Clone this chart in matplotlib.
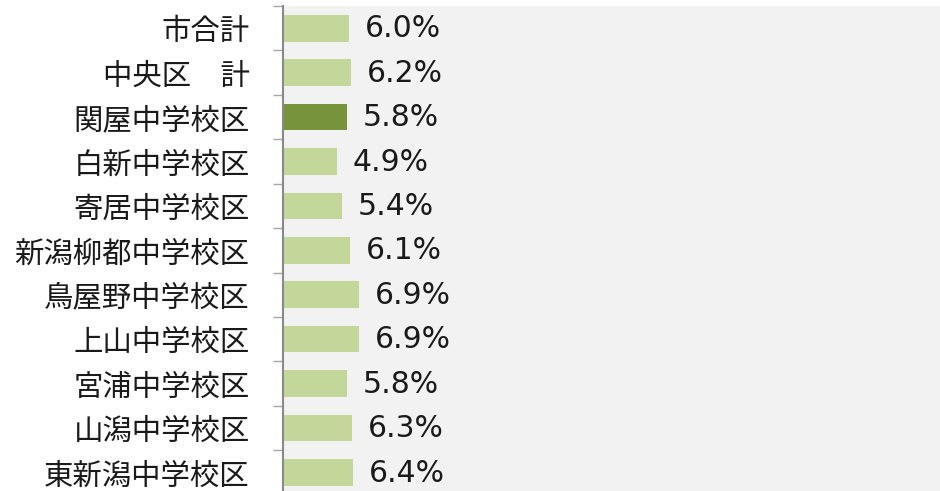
import numpy as np
import matplotlib
matplotlib.use("Agg")
from matplotlib import pyplot as plt

# Data
districts = [
    "市合計",
    "中央区　計",
    "関屋中学校区",
    "白新中学校区",
    "寄居中学校区",
    "新潟柳都中学校区",
    "鳥屋野中学校区",
    "上山中学校区",
    "宮浦中学校区",
    "山潟中学校区",
    "東新潟中学校区",
]
rates = [6.0, 6.2, 5.8, 4.9, 5.4, 6.1, 6.9, 6.9, 5.8, 6.3, 6.4]
highlight = "関屋中学校区"

LIGHT = "#C4D79B"
DARK = "#77933C"

plt.rcParams["font.family"] = ["Noto Sans CJK JP", "DejaVu Sans"]

fig = plt.figure(figsize=(9.4, 4.91), dpi=100)
W, H = 940, 491
top_px, bottom_px = 6, 494.6
ax = fig.add_axes([283 / W, 1 - bottom_px / H, 1 - 283 / W, (bottom_px - top_px) / H])
ax.set_facecolor("#F2F2F2")

y = np.arange(len(districts))
colors = [DARK if d == highlight else LIGHT for d in districts]
bars = ax.barh(y, rates, height=0.6, color=colors, zorder=2)

for bar, val in zip(bars, rates):
    ax.annotate(
        f"{val:.1f}%",
        xy=(bar.get_width(), bar.get_y() + bar.get_height() / 2),
        xytext=(11.5, -0.5),
        textcoords="offset points",
        ha="left",
        va="center",
        fontsize=21.5,
        family=["DejaVu Sans", "Noto Sans CJK JP"],
        color="#1a1a1a",
    )

ax.set_xlim(0, 60)
ax.set_ylim(len(districts) - 0.5, -0.5)

ax.set_yticks(y)
ax.set_yticklabels(districts, fontsize=21.2, color="#1a1a1a")
ax.set_yticks(np.arange(len(districts) + 1) - 0.5, minor=True)
ax.tick_params(axis="y", which="major", length=0, pad=24)
ax.tick_params(axis="y", which="minor", length=7.5, width=1, color="#A6A6A6")
ax.set_xticks([])

for side in ("top", "right", "bottom"):
    ax.spines[side].set_visible(False)
ax.spines["left"].set_color("#898989")
ax.spines["left"].set_linewidth(1.5)

fig.savefig("out.png", dpi=100)
